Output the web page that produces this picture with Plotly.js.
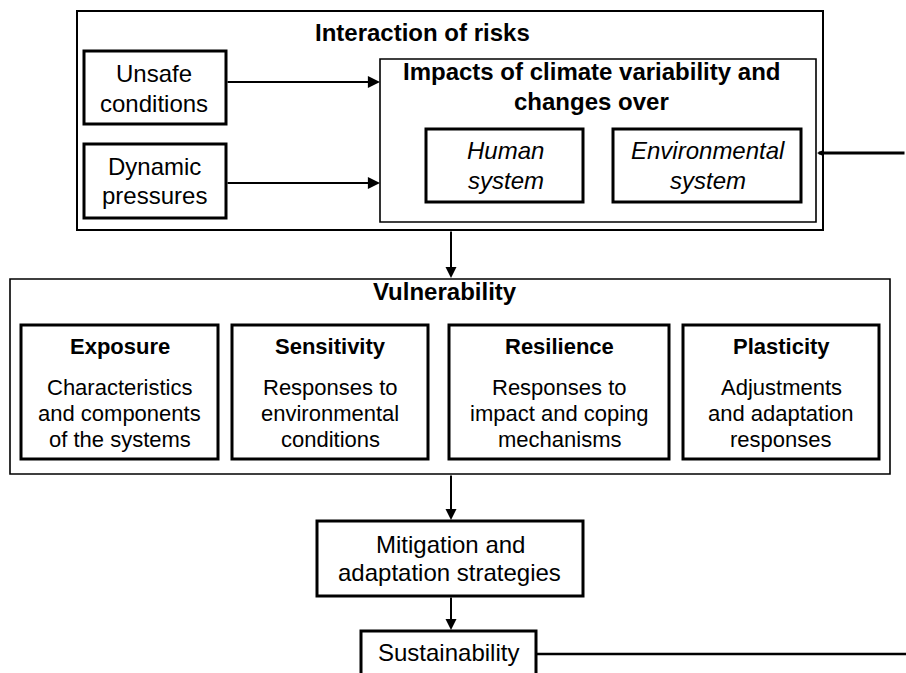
<!DOCTYPE html>
<html>
<head>
<meta charset="utf-8">
<script src="https://cdn.plot.ly/plotly-3.0.1.min.js"></script>
<style>html,body{margin:0;padding:0;background:#fff;}#chart{width:906px;height:673px;}</style>
</head>
<body>
<div id="chart"></div>
<script>
// ---- content (text) ----
const titleRisks = "Interaction of risks";
const impactsTitle = ["Impacts of climate variability and", "changes over"];
const riskDrivers = [["Unsafe", "conditions"], ["Dynamic", "pressures"]];
const systems = [["Human", "system"], ["Environmental", "system"]];
const vulnTitle = "Vulnerability";
const componentNames = ["Exposure", "Sensitivity", "Resilience", "Plasticity"];
const componentDescriptions = [
  ["Characteristics", "and components", "of the systems"],
  ["Responses to", "environmental", "conditions"],
  ["Responses to", "impact and coping", "mechanisms"],
  ["Adjustments", "and adaptation", "responses"]
];
const strategyText = ["Mitigation and", "adaptation strategies"];
const outcomeText = ["Sustainability"];

// ---- geometry (layout only) ----
const FONT = "Liberation Sans, Arial, sans-serif";
const shapes = [];
const annotations = [];
function rect(x0, y0, x1, y1, w) {
  shapes.push({type: "rect", xref: "x", yref: "y", x0: x0, y0: y0, x1: x1, y1: y1,
    line: {color: "#000", width: w}, fillcolor: "rgba(0,0,0,0)"});
}
function line(x0, y0, x1, y1, w) {
  shapes.push({type: "line", xref: "x", yref: "y", x0: x0, y0: y0, x1: x1, y1: y1,
    line: {color: "#000", width: w}});
}
function txt(s, x, y, size, opts) {
  opts = opts || {};
  let t = s;
  if (opts.bold) t = "<b>" + t + "</b>";
  if (opts.italic) t = "<i>" + t + "</i>";
  annotations.push({text: t, x: x, y: y, xref: "x", yref: "y", showarrow: false,
    xanchor: "center", yanchor: "middle", font: {family: FONT, size: size, color: "#000"}});
}
function arrow(x0, y0, x1, y1, w, s) {
  annotations.push({text: "", x: x1, y: y1, ax: x0, ay: y0, xref: "x", yref: "y",
    axref: "x", ayref: "y", showarrow: true, arrowhead: 2, arrowsize: s || 1.1, arrowwidth: w,
    arrowcolor: "#000", standoff: 0, startstandoff: 0});
}

// Outer "interaction of risks" box
rect(77, 11, 823, 230, 2);
txt(titleRisks, 422, 32.5, 24, {bold: true});
// impacts box
rect(380, 59, 816, 222, 1.6);
txt(impactsTitle[0], 591, 71.5, 24, {bold: true});
txt(impactsTitle[1], 591, 101, 24, {bold: true});
// driver boxes
const driverBoxes = [[84, 51, 226, 124], [84, 144, 226, 218]];
const driverLineY = [[73.5, 103], [166, 195]];
riskDrivers.forEach((lines, i) => {
  const b = driverBoxes[i];
  rect(b[0], b[1], b[2], b[3], 3);
  lines.forEach((l, j) => txt(l, (b[0] + b[2]) / 2 - 1, driverLineY[i][j], 24));
});
arrow(226, 82, 380, 82, 2.2);
arrow(226, 183, 380, 183, 2.2);
// system boxes
const systemBoxes = [[426, 129, 583, 202], [613, 129, 801, 202]];
const systemLineY = [150.5, 180];
systems.forEach((lines, i) => {
  const b = systemBoxes[i];
  rect(b[0], b[1], b[2], b[3], 3);
  lines.forEach((l, j) => txt(l, (b[0] + b[2]) / 2 + 1, systemLineY[j], 24, {italic: true}));
});
// feedback line from the right
arrow(906, 153, 817, 153, 3, 0.45);

// arrow down to vulnerability
arrow(451, 230, 451, 278, 2);
rect(10, 279, 890, 474, 1.6);
txt(vulnTitle, 445, 291, 24, {bold: true});
const compBoxes = [[21, 325, 218, 459], [232, 325, 428, 459], [449, 325, 669, 459], [683, 325, 879, 459]];
const compLineY = [387, 413.5, 439.5];
componentNames.forEach((n, i) => {
  const b = compBoxes[i];
  rect(b[0], b[1], b[2], b[3], 3);
  const cx = (b[0] + b[2]) / 2;
  txt(n, cx, 346, 22, {bold: true});
  componentDescriptions[i].forEach((l, j) => txt(l, cx, compLineY[j], 22));
});

// arrow to mitigation
arrow(451, 474, 451, 520, 2);
rect(317, 521, 583, 596, 3);
txt(strategyText[0], 450, 544, 24);
txt(strategyText[1], 449, 572.5, 24);
// arrow to sustainability
arrow(451, 596, 451, 630, 2);
rect(361, 631, 536, 700, 3);
txt(outcomeText[0], 448.5, 652.5, 24);
line(536, 654, 906, 654, 2.5);

const layout = {
  width: 906, height: 673,
  margin: {l: 0, r: 0, t: 0, b: 0, pad: 0},
  paper_bgcolor: "#fff", plot_bgcolor: "#fff",
  xaxis: {range: [0, 906], visible: false, fixedrange: true},
  yaxis: {range: [673, 0], visible: false, fixedrange: true},
  showlegend: false,
  shapes: shapes,
  annotations: annotations
};
Plotly.newPlot("chart", [], layout, {staticPlot: true, displayModeBar: false});
</script>
</body>
</html>
